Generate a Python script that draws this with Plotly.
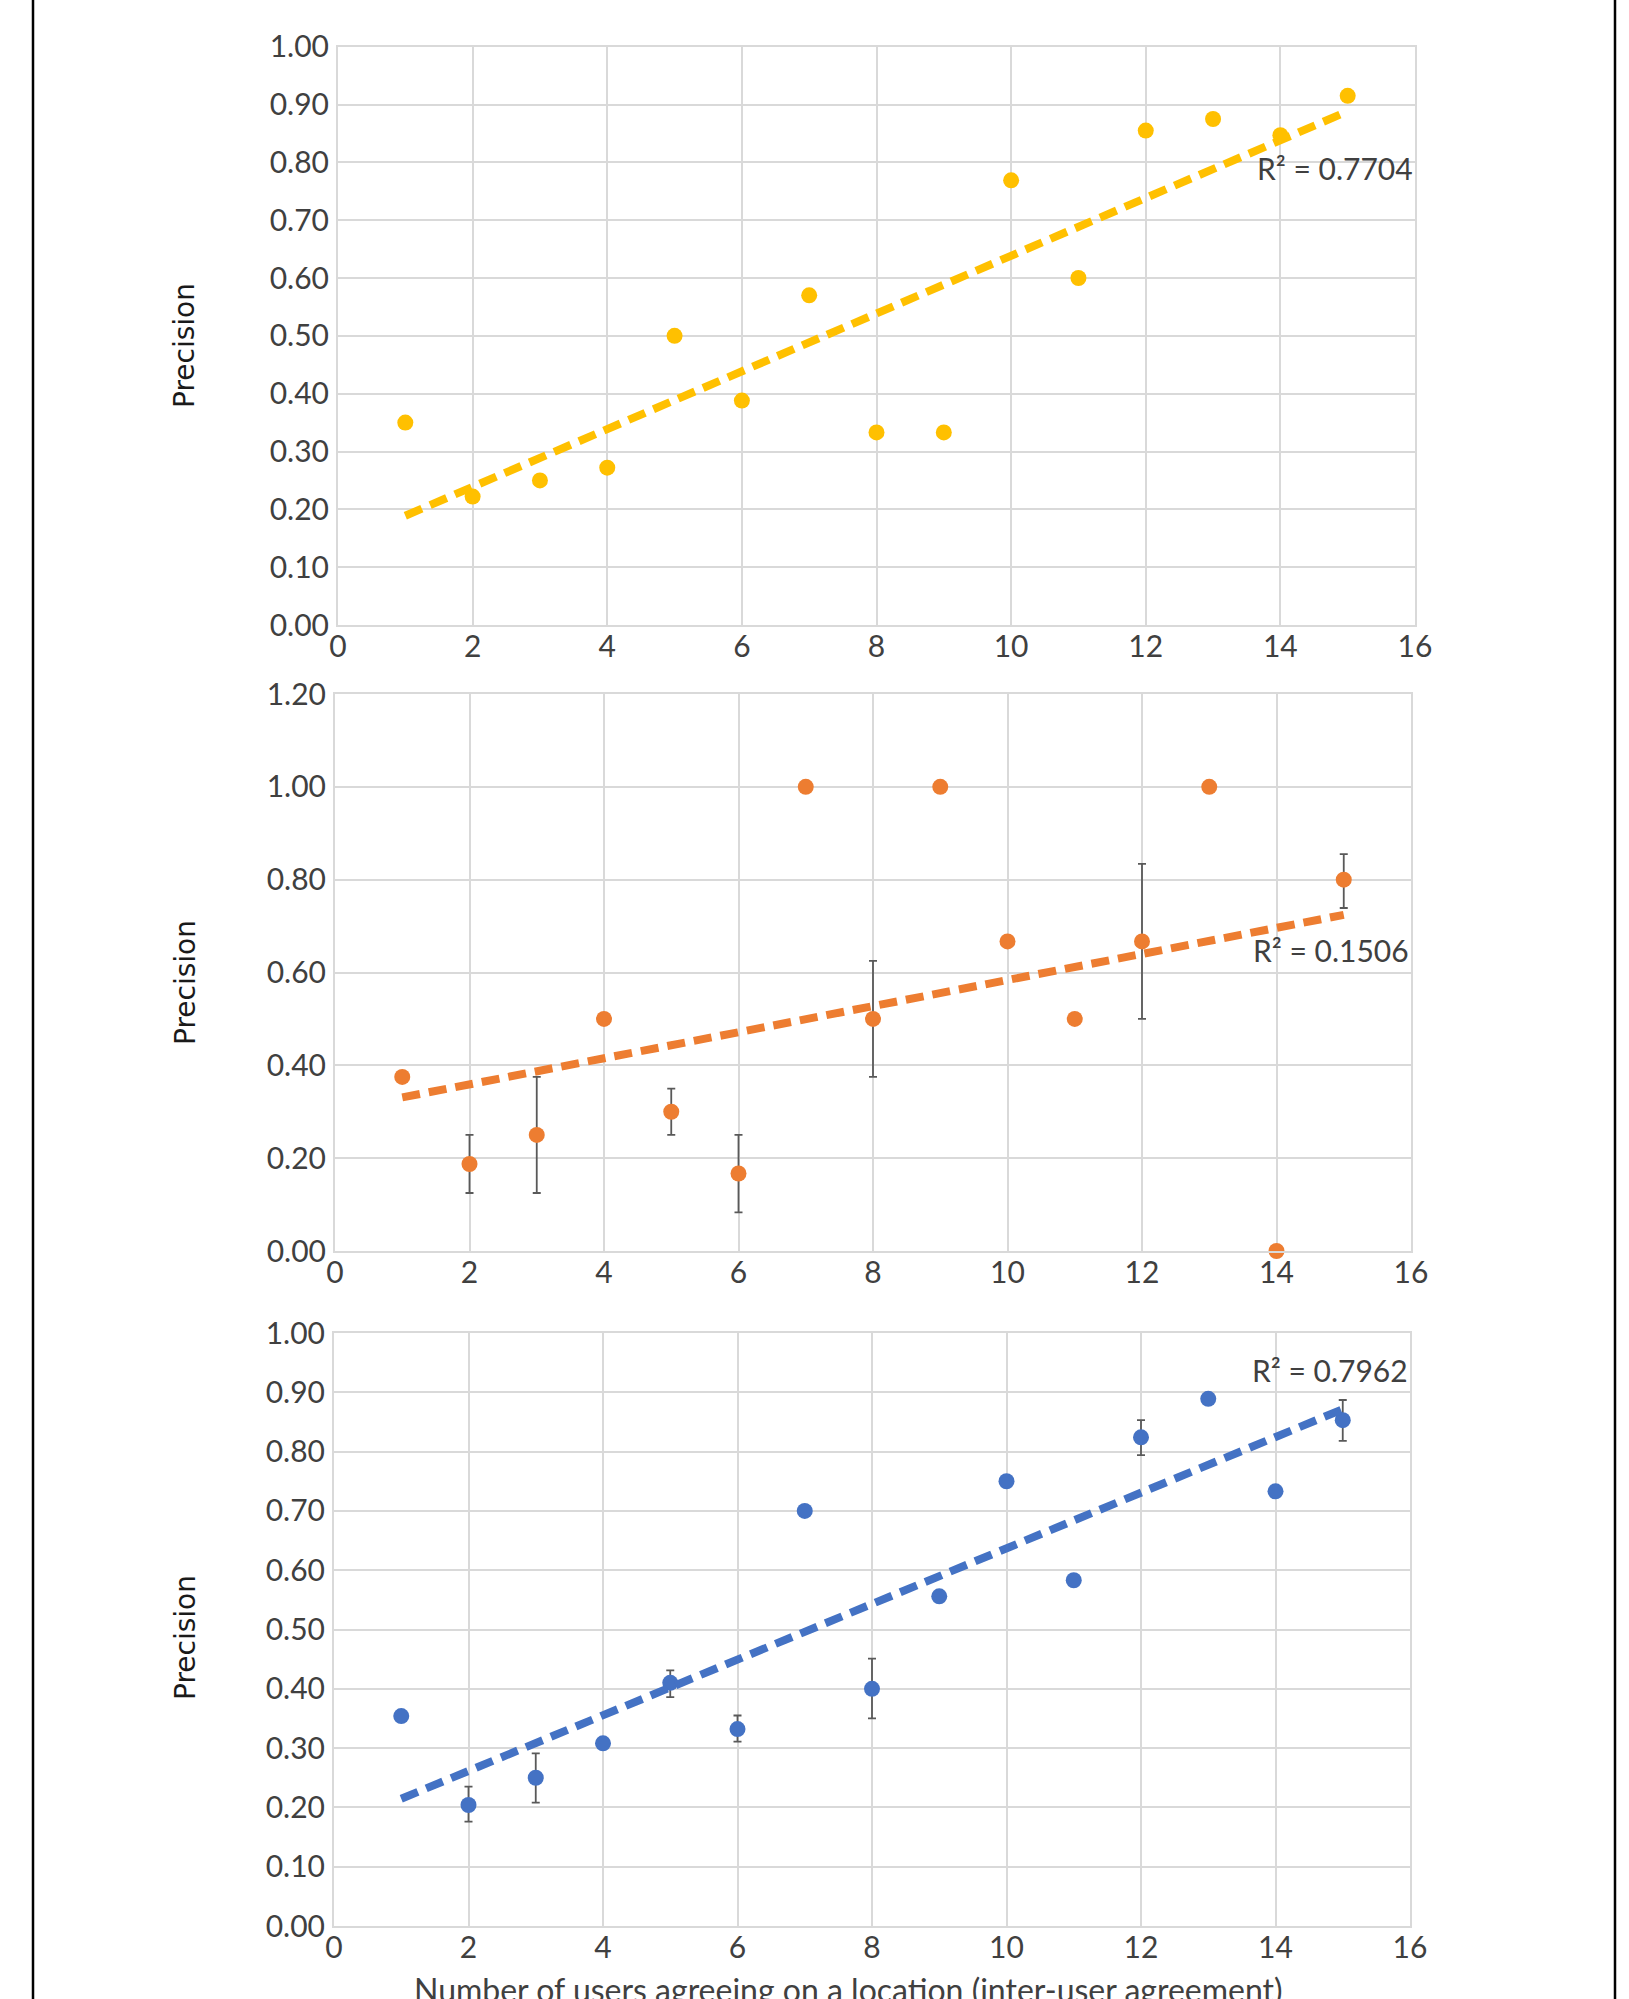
import numpy as np
import plotly.graph_objects as go

# ---------------- data ----------------
users = [1, 2, 3, 4, 5, 6, 7, 8, 9, 10, 11, 12, 13, 14, 15]

prec_yellow = [0.350, 0.222, 0.250, 0.272, 0.500, 0.388, 0.570, 0.333, 0.333,
               0.769, 0.600, 0.855, 0.875, 0.847, 0.915]
err_yellow_plus = [0.010, 0, 0, 0, 0, 0, 0, 0, 0, 0, 0, 0, 0, 0, 0]
err_yellow_minus = [0.010, 0, 0, 0, 0, 0, 0, 0, 0, 0, 0, 0, 0, 0, 0]

prec_orange = [0.375, 0.1875, 0.250, 0.500, 0.300, 0.167, 1.000, 0.500, 1.000,
               0.667, 0.500, 0.667, 1.000, 0.000, 0.800]
err_orange_plus = [0, 0.0625, 0.125, 0, 0.050, 0.083, 0, 0.125, 0, 0, 0, 0.167, 0, 0, 0.055]
err_orange_minus = [0, 0.0625, 0.125, 0, 0.050, 0.084, 0, 0.125, 0, 0, 0, 0.167, 0, 0, 0.061]

prec_blue = [0.354, 0.204, 0.250, 0.308, 0.410, 0.332, 0.700, 0.400, 0.556,
             0.750, 0.583, 0.824, 0.889, 0.733, 0.853]
err_blue_plus = [0, 0.031, 0.041, 0, 0.021, 0.023, 0, 0.051, 0, 0, 0, 0.029, 0, 0, 0.034]
err_blue_minus = [0, 0.028, 0.042, 0, 0.024, 0.021, 0, 0.050, 0, 0, 0, 0.030, 0, 0, 0.035]

r2_labels = ["R² = 0.7704", "R² = 0.1506", "R² = 0.7962"]
r2_label_y = [0.79, 0.648, 0.937]

y_title = "Precision"
x_title = "Number of users agreeing on a location (inter-user agreement)"

x_ticks = [0, 2, 4, 6, 8, 10, 12, 14, 16]

# ---------------- styling ----------------
W, H = 1629, 1999
colors = ["#FFC000", "#ED7D31", "#4472C4"]
grid = "#d9d9d9"
txt = "#404040"
font_family = "Lato"

# pixel geometry of the panels (left, right, top, bottom)
panels = [
    (338, 1415, 46.7, 625),
    (335, 1411, 694, 1251),
    (334, 1410, 1333, 1926),
]
y_ranges = [(0, 1.0, 0.1), (0, 1.2, 0.2), (0, 1.0, 0.1)]
title_centers = [346, 983, 1638]

series = [
    (prec_yellow, err_yellow_plus, err_yellow_minus),
    (prec_orange, err_orange_plus, err_orange_minus),
    (prec_blue, err_blue_plus, err_blue_minus),
]

fig = go.Figure()
annotations = []

for i, ((yv, ep, em), col) in enumerate(zip(series, colors)):
    ax = "" if i == 0 else str(i + 1)
    xa, ya = "x" + ax, "y" + ax
    fig.add_trace(go.Scatter(
        x=users, y=yv, mode="markers", xaxis=xa, yaxis=ya,
        marker=dict(size=16, color=col, line=dict(width=0)),
        error_y=dict(type="data", symmetric=False, array=ep, arrayminus=em,
                     color="#595959", thickness=1.8, width=4),
        showlegend=False, cliponaxis=False,
    ))
    # linear trendline from least squares fit
    slope, intercept = np.polyfit(users, yv, 1)
    tx = [users[0], users[-1]]
    ty = [slope * t + intercept for t in tx]
    fig.add_trace(go.Scatter(
        x=tx, y=ty, mode="lines", xaxis=xa, yaxis=ya,
        line=dict(color=col, width=8, dash="18px,9px"),
        showlegend=False,
    ))

    l, r, t, b = panels[i]
    y0, y1, dy = y_ranges[i]
    axis_common = dict(
        showgrid=True, gridcolor=grid, gridwidth=2,
        showline=True, linecolor=grid, linewidth=2, mirror=True,
        zeroline=False, ticks="", automargin=False,
        tickfont=dict(family=font_family, size=30, color=txt),
    )
    fig.update_layout(**{
        "xaxis" + ax: dict(
            domain=[l / W, r / W], range=[0, 16], tickvals=x_ticks,
            anchor=ya, ticklabelstandoff=-6, **axis_common),
        "yaxis" + ax: dict(
            domain=[1 - b / H, 1 - t / H], range=[y0, y1], dtick=dy,
            tickformat=".2f", anchor=xa, ticklabelstandoff=1, **axis_common),
    })

    annotations.append(dict(
        x=16, y=r2_label_y[i], xref=xa, yref=ya, text=r2_labels[i],
        showarrow=False, xanchor="right", yanchor="middle",
        font=dict(family=font_family, size=30, color=txt),
    ))
    annotations.append(dict(
        x=185 / W, y=1 - title_centers[i] / H, xref="paper", yref="paper",
        text=y_title, textangle=-90, showarrow=False,
        xanchor="center", yanchor="middle",
        font=dict(family="DejaVu Sans", size=28, color="#1a1a1a"),
    ))

annotations.append(dict(
    x=848 / W, y=1 - 1989 / H, xref="paper", yref="paper", text=x_title,
    showarrow=False, xanchor="center", yanchor="middle",
    font=dict(family=font_family, size=32, color=txt),
))

shapes = [
    dict(type="line", xref="paper", yref="paper", x0=33 / W, x1=33 / W, y0=0, y1=1,
         line=dict(color="black", width=2.5)),
    dict(type="line", xref="paper", yref="paper", x0=1615 / W, x1=1615 / W, y0=0, y1=1,
         line=dict(color="black", width=2.5)),
]

fig.update_layout(
    width=W, height=H, margin=dict(l=0, r=0, t=0, b=0, autoexpand=False),
    paper_bgcolor="white", plot_bgcolor="white",
    annotations=annotations, shapes=shapes,
)

fig.write_html("out.html")
